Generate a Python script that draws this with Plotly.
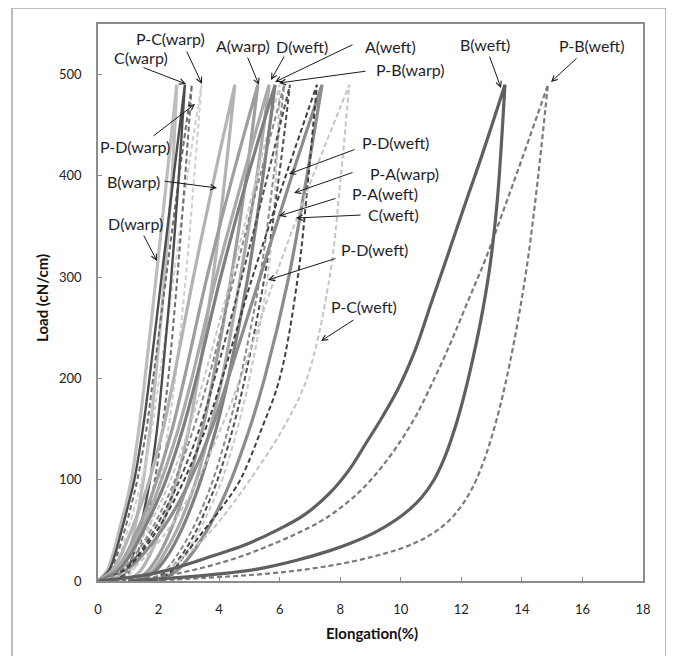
import plotly.graph_objects as go

# ---------------- data ----------------
LOAD = [0, 10, 25, 50, 75, 100, 150, 200, 300, 400, 490]  # cN/cm

# elongation (%) at each LOAD level: loading branch / unloading branch
d_warp_load = [0, 0.3, 0.48, 0.7, 0.92, 1.1, 1.35, 1.55, 1.92, 2.28, 2.6]
d_warp_unload = [0.5, 0.8, 1.0, 1.2, 1.36, 1.5, 1.72, 1.9, 2.2, 2.45, 2.6]
c_warp_load = [0, 0.35, 0.55, 0.78, 1.0, 1.2, 1.48, 1.7, 2.1, 2.5, 2.87]
c_warp_unload = [0.6, 0.95, 1.15, 1.38, 1.56, 1.72, 1.95, 2.12, 2.42, 2.67, 2.87]
pd_warp_load = [0, 0.4, 0.62, 0.88, 1.1, 1.3, 1.6, 1.82, 2.25, 2.68, 3.1]
pd_warp_unload = [0.7, 1.05, 1.28, 1.52, 1.72, 1.88, 2.12, 2.32, 2.62, 2.88, 3.1]
pc_warp_load = [0, 0.45, 0.7, 0.98, 1.23, 1.45, 1.78, 2.02, 2.5, 2.95, 3.42]
pc_warp_unload = [0.8, 1.15, 1.4, 1.68, 1.88, 2.05, 2.32, 2.55, 2.9, 3.18, 3.42]
b_warp_load = [0, 0.45, 0.75, 1.1, 1.42, 1.7, 2.15, 2.5, 3.15, 3.85, 4.52]
b_warp_unload = [1.0, 1.4, 1.7, 2.05, 2.35, 2.6, 3.0, 3.3, 3.8, 4.2, 4.52]
a_warp_load = [0, 0.55, 0.9, 1.3, 1.65, 1.95, 2.45, 2.85, 3.6, 4.45, 5.28]
a_warp_unload = [1.2, 1.65, 2.0, 2.4, 2.72, 3.0, 3.45, 3.8, 4.4, 4.9, 5.28]
d_weft_load = [0, 0.6, 0.95, 1.4, 1.78, 2.1, 2.65, 3.1, 3.9, 4.8, 5.65]
d_weft_unload = [1.3, 1.8, 2.15, 2.6, 2.95, 3.25, 3.7, 4.1, 4.7, 5.25, 5.65]
a_weft_load = [0, 0.65, 1.05, 1.5, 1.9, 2.25, 2.8, 3.25, 4.05, 4.95, 5.85]
a_weft_unload = [1.4, 1.9, 2.3, 2.75, 3.1, 3.4, 3.9, 4.3, 4.95, 5.45, 5.85]
pd_weft_load = [0, 0.7, 1.1, 1.6, 2.03, 2.4, 3.0, 3.5, 4.4, 5.25, 6.0]
pd_weft_unload = [1.8, 2.4, 2.85, 3.35, 3.75, 4.1, 4.6, 5.0, 5.6, 5.88, 6.0]
pb_warp_load = [0, 0.8, 1.3, 1.85, 2.3, 2.7, 3.35, 3.85, 4.75, 5.6, 6.34]
pb_warp_unload = [1.7, 2.3, 2.75, 3.25, 3.62, 3.95, 4.45, 4.85, 5.5, 5.98, 6.34]
pa_weft_load = [0, 0.75, 1.2, 1.75, 2.18, 2.55, 3.15, 3.65, 4.5, 5.35, 6.15]
pa_weft_unload = [1.6, 2.2, 2.6, 3.1, 3.48, 3.8, 4.3, 4.7, 5.35, 5.8, 6.15]
pa_warp_load = [0, 0.85, 1.35, 1.95, 2.43, 2.85, 3.55, 4.1, 5.1, 6.2, 7.23]
pa_warp_unload = [1.9, 2.45, 2.85, 3.5, 4.15, 4.7, 5.4, 6.0, 6.6, 6.95, 7.23]
c_weft_load = [0, 0.9, 1.45, 2.1, 2.62, 3.05, 3.75, 4.3, 5.35, 6.4, 7.4]
c_weft_unload = [2.0, 2.6, 3.05, 3.6, 4.03, 4.4, 5.0, 5.5, 6.3, 6.9, 7.4]
pc_weft_load = [0, 1.0, 1.6, 2.3, 2.85, 3.3, 4.05, 4.7, 5.85, 7.1, 8.3]
pc_weft_unload = [1.6, 2.2, 2.9, 3.75, 4.42, 5.02, 6.1, 6.9, 7.65, 8.02, 8.3]

# the two wide weft loops, read more densely: (elongation, load)
b_weft_up_x = [0, 1.4, 2.2, 3.1, 3.8, 4.8, 5.9, 6.8, 7.66, 8.3, 8.85, 9.35, 9.9, 10.5, 11.0, 11.6, 12.1, 12.7, 13.44]
b_weft_up_y = [0, 5, 10, 18, 25, 35, 50, 65, 87, 110, 136, 160, 189, 230, 274, 326, 370, 422, 490]
b_weft_dn_x = [1.0, 2.5, 4.0, 5.3, 6.5, 7.66, 8.4, 9.15, 9.87, 10.3, 10.7, 11.1, 11.45, 11.8, 12.1, 12.4, 12.68, 12.95, 13.2, 13.44]
b_weft_dn_y = [0, 3, 7, 12, 20, 30, 38, 48, 61, 71, 83, 100, 122, 152, 184, 222, 263, 312, 380, 490]
pb_weft_up_x = [0.5, 2.0, 3.3, 4.5, 5.5, 6.5, 7.3, 8.0, 8.7, 9.3, 9.9, 10.5, 11.0, 11.6, 12.2, 12.8, 13.44, 14.1, 14.86]
pb_weft_up_y = [0, 4, 12, 22, 33, 46, 58, 72, 90, 110, 134, 163, 193, 232, 275, 318, 370, 425, 490]
pb_weft_dn_x = [1.5, 3.5, 5.5, 7.0, 8.2, 9.2, 9.9, 10.5, 11.0, 11.5, 11.95, 12.35, 12.7, 13.0, 13.3, 13.6, 13.9, 14.2, 14.5, 14.86]
pb_weft_dn_y = [0, 3, 7, 12, 18, 25, 31, 38, 46, 57, 72, 91, 115, 142, 175, 215, 262, 318, 390, 490]

X_TICKS = [0, 2, 4, 6, 8, 10, 12, 14, 16, 18]
Y_TICKS = [0, 100, 200, 300, 400, 500]

LABELS = ["P-C(warp)", "C(warp)", "A(warp)", "D(weft)", "A(weft)", "P-B(warp)",
          "B(weft)", "P-B(weft)", "P-D(warp)", "B(warp)", "D(warp)",
          "P-D(weft)", "P-A(warp)", "P-A(weft)", "C(weft)", "P-D(weft)", "P-C(weft)"]

# ---------------- build loops ----------------
def loop_xy(xl, xu):
    return list(xl) + list(xu)[::-1], list(LOAD) + list(LOAD)[::-1]


def dense_xy(ux, uy, dx, dy):
    return list(ux) + list(dx)[::-1], list(uy) + list(dy)[::-1]


loops = [
    ("D(warp)", loop_xy(d_warp_load, d_warp_unload), "#bdbdbd", 3.2, "solid"),
    ("P-C(warp)", loop_xy(pc_warp_load, pc_warp_unload), "#cfcfcf", 2, "dash"),
    ("P-D(warp)", loop_xy(pd_warp_load, pd_warp_unload), "#6e6e6e", 2, "dash"),
    ("C(warp)", loop_xy(c_warp_load, c_warp_unload), "#4d4d4d", 2.4, "solid"),
    ("B(warp)", loop_xy(b_warp_load, b_warp_unload), "#b3b3b3", 3.2, "solid"),
    ("A(warp)", loop_xy(a_warp_load, a_warp_unload), "#9e9e9e", 3.2, "solid"),
    ("D(weft)", loop_xy(d_weft_load, d_weft_unload), "#aaaaaa", 3.2, "solid"),
    ("P-D(weft)", loop_xy(pd_weft_load, pd_weft_unload), "#c8c8c8", 2, "dash"),
    ("A(weft)", loop_xy(a_weft_load, a_weft_unload), "#7f7f7f", 3.2, "solid"),
    ("P-A(weft)", loop_xy(pa_weft_load, pa_weft_unload), "#8a8a8a", 2, "dash"),
    ("P-B(warp)", loop_xy(pb_warp_load, pb_warp_unload), "#505050", 2, "dash"),
    ("C(weft)", loop_xy(c_weft_load, c_weft_unload), "#8c8c8c", 3.2, "solid"),
    ("P-A(warp)", loop_xy(pa_warp_load, pa_warp_unload), "#3f3f3f", 2, "dash"),
    ("P-C(weft)", loop_xy(pc_weft_load, pc_weft_unload), "#c4c4c4", 2, "dash"),
    ("P-B(weft)", dense_xy(pb_weft_up_x, pb_weft_up_y, pb_weft_dn_x, pb_weft_dn_y), "#7a7a7a", 2.2, "dash"),
    ("B(weft)", dense_xy(b_weft_up_x, b_weft_up_y, b_weft_dn_x, b_weft_dn_y), "#5f5f5f", 3.2, "solid"),
]

fig = go.Figure()
for name, (xs, ys), col, w, dash in loops:
    fig.add_trace(go.Scatter(
        x=xs, y=ys, mode="lines", name=name, showlegend=False,
        line=dict(color=col, width=w, dash=("5px,3px" if dash == "dash" else "solid"),
                  shape="spline", smoothing=1.0)))

# page geometry (pixels); the page body adds an 8px margin
OFF = 8
L_PX, R_PX, T_PX, B_PX = 98, 643, 24, 581
W, H = 658, 648


def px2x(px):
    return (px - L_PX) / (R_PX - L_PX) * 18


def py2y(py):
    return (B_PX - py) / (B_PX - T_PX) * 550


def px2paper(px):
    return (px - L_PX) / (R_PX - L_PX)


def py2paper(py):
    return (B_PX - py) / (B_PX - T_PX)


# (text centre px, text centre py, tail px, tail py, tip px, tip py)
label_geom = [
    (170, 38, 186, 50, 202, 84),
    (141, 57, 142, 67, 186, 84),
    (243, 45, 247, 56, 259, 85),
    (302, 46, 285, 55, 271, 80),
    (390, 46, 354, 44, 275, 82),
    (410, 69, 367, 71, 279, 83),
    (485, 44, 489, 55, 501, 88),
    (592, 45, 578, 57, 551, 82),
    (135, 146, 152, 137, 195, 104),
    (133, 181, 163, 181, 217, 188),
    (135, 223, 143, 234, 157, 261),
    (395, 142, 356, 149, 289, 174),
    (404, 173, 354, 172, 294, 193),
    (385, 193, 337, 198, 279, 216),
    (393, 214, 362, 215, 296, 218),
    (374, 249, 337, 258, 268, 280),
    (364, 306, 355, 319, 321, 341),
]

FONT = "Lato, Open Sans, sans-serif"
ann = []
for txt, (tx, ty, ax_, ay_, hx, hy) in zip(LABELS, label_geom):
    ann.append(dict(x=px2x(tx), y=py2y(ty), xref="x", yref="y", text=txt,
                    xanchor="center", yanchor="middle",
                    showarrow=False, font=dict(family=FONT, size=16, color="#1f1f2a")))
    ann.append(dict(x=px2x(hx), y=py2y(hy), ax=px2x(ax_), ay=py2y(ay_),
                    xref="x", yref="y", axref="x", ayref="y", text="",
                    showarrow=True, arrowhead=5, arrowsize=1.1, arrowwidth=1,
                    arrowcolor="#1a1a1a"))

ann.append(dict(x=px2paper(372), y=py2paper(633), xref="paper", yref="paper",
                xanchor="center", yanchor="middle",
                text="<b>Elongation(%)</b>", showarrow=False,
                font=dict(family=FONT, size=15, color="#111")))
ann.append(dict(x=px2paper(42), y=py2paper(298), xref="paper", yref="paper",
                xanchor="center", yanchor="middle",
                text="<b>Load (cN/cm)</b>", showarrow=False, textangle=-90,
                font=dict(family=FONT, size=15, color="#111")))

fig.update_layout(
    width=W, height=H,
    margin=dict(l=L_PX - OFF, r=W - (R_PX - OFF), t=T_PX - OFF, b=H - (B_PX - OFF)),
    plot_bgcolor="white", paper_bgcolor="white",
    annotations=ann,
    shapes=[dict(type="rect", xref="paper", yref="paper",
                 x0=px2paper(12), x1=px2paper(666),
                 y0=py2paper(700), y1=py2paper(8),
                 line=dict(color="#a8a8a8", width=1.5), layer="below")],
)
fig.update_xaxes(range=[0, 18], tickvals=X_TICKS, showgrid=False, zeroline=False,
                 showline=True, mirror=True, linecolor="#8c8c8c", linewidth=1.5,
                 ticks="inside", ticklen=4, tickcolor="#8c8c8c",
                 ticklabelstandoff=16,
                 tickfont=dict(family=FONT, size=13, color="#222"))
fig.update_yaxes(range=[0, 550], tickvals=Y_TICKS, showgrid=False, zeroline=False,
                 showline=True, mirror=True, linecolor="#8c8c8c", linewidth=1.5,
                 ticks="inside", ticklen=4, tickcolor="#8c8c8c",
                 ticklabelstandoff=12,
                 tickfont=dict(family=FONT, size=13, color="#222"))

fig.write_html("out.html")
